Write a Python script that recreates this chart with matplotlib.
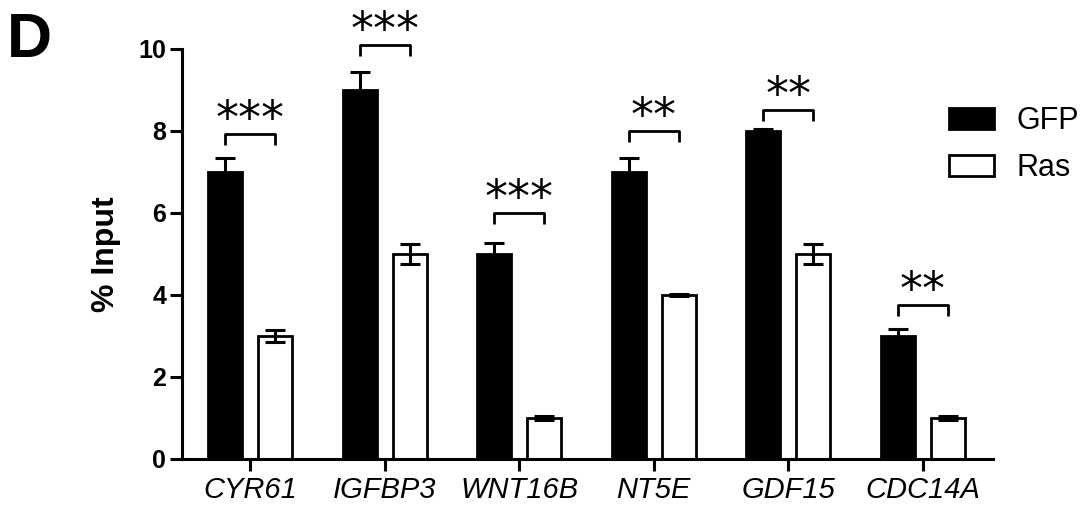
import matplotlib
matplotlib.use("Agg")
import matplotlib.pyplot as plt
import numpy as np

genes = ["CYR61", "IGFBP3", "WNT16B", "NT5E", "GDF15", "CDC14A"]
gfp = [7.0, 9.0, 5.0, 7.0, 8.0, 3.0]
gfp_err = [0.34, 0.45, 0.26, 0.34, 0.06, 0.16]
ras = [3.0, 5.0, 1.0, 4.0, 5.0, 1.0]
ras_err = [0.15, 0.25, 0.06, 0.03, 0.25, 0.06]
sig_labels = ["***", "***", "***", "**", "**", "**"]
sig_levels = [7.93, 10.1, 6.0, 8.0, 8.52, 3.75]
yticks = [0, 2, 4, 6, 8, 10]

plt.rcParams['font.family'] = ['Liberation Sans', 'DejaVu Sans']

fig = plt.figure(figsize=(10.89, 5.08), dpi=100)
ax = fig.add_axes([182/1089, 1-459/508, (993-182)/1089, (459-49)/508])

x = np.arange(len(genes))
w = 0.253
off = 0.186
lw = 2.0

ax.bar(x - off, gfp, w, color='black', edgecolor='black', linewidth=lw, zorder=2, label='GFP')
ax.bar(x + off, ras, w, color='white', edgecolor='black', linewidth=lw, zorder=2, label='Ras')
ax.errorbar(x - off, gfp, yerr=gfp_err, fmt='none', ecolor='black', elinewidth=2.2,
            capsize=7, capthick=2.2, zorder=3)
ax.errorbar(x + off, ras, yerr=ras_err, fmt='none', ecolor='black', elinewidth=2.2,
            capsize=7, capthick=2.2, zorder=3)

arm = 0.27
for xi, lvl, lab in zip(x, sig_levels, sig_labels):
    ax.plot([xi - off, xi - off, xi + off, xi + off], [lvl - arm, lvl, lvl, lvl - arm],
            color='black', lw=2.0, clip_on=False, solid_capstyle='butt')
    ax.text(xi, lvl + 0.02, lab, ha='center', va='baseline', fontsize=33,
            family='DejaVu Sans', clip_on=False)

ax.set_xlim(-0.505, 5.52)
ax.set_ylim(0, 10)
ax.set_yticks(yticks)
ax.set_yticklabels([str(t) for t in yticks], fontsize=18, fontweight='bold')
ax.set_xticks(x)
ax.set_xticklabels(genes, fontsize=21, style='italic')
ax.set_ylabel('% Input', fontsize=23, fontweight='bold', labelpad=12)

for s in ['top', 'right']:
    ax.spines[s].set_visible(False)
for s in ['left', 'bottom']:
    ax.spines[s].set_linewidth(2.2)
ax.tick_params(axis='both', width=2.2, length=8.5)
ax.tick_params(axis='y', pad=3)
ax.tick_params(axis='x', pad=4)

leg = ax.legend(loc='upper left', bbox_to_anchor=(937/1089, 1-94/508), bbox_transform=fig.transFigure,
                frameon=False, fontsize=22, handlelength=1.45, handleheight=0.7,
                handletextpad=0.75, labelspacing=0.55, borderaxespad=0)

fig.text(7/1089, 1-57/508, 'D', fontsize=45, fontweight='bold', ha='left', va='baseline')

fig.savefig('out.png', dpi=100)
